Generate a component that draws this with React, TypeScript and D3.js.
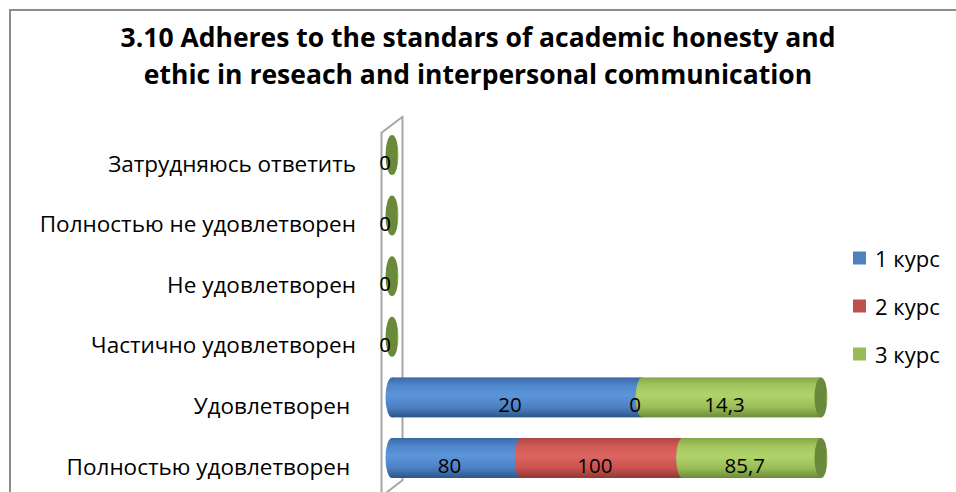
import * as d3 from "d3";

const categories = [
  "Затрудняюсь ответить",
  "Полностью не удовлетворен",
  "Не удовлетворен",
  "Частично удовлетворен",
  "Удовлетворен ",
  "Полностью удовлетворен ",
];
const seriesNames = ["1 курс", "2 курс", "3 курс"];
const course1 = [0, 0, 0, 0, 20, 80];
const course2 = [0, 0, 0, 0, 0, 100];
const course3 = [0, 0, 0, 0, 14.3, 85.7];

const TITLE = [
  "3.10 Adheres to the standars of academic honesty and",
  "ethic in reseach and interpersonal communication",
];

const FONT = "'Open Sans', 'Noto Sans', sans-serif";
const W = 956;
const H = 492;

// legend swatch + cylinder shading per series
const SWATCH = ["#4f81bd", "#c0504d", "#9bbb59"];
const SHADE = [
  ["#3a68a6", "#4f86cc", "#5c95da", "#4c80c2", "#2c5589"],
  ["#b04643", "#cf5955", "#dc6561", "#c9524e", "#923835"],
  ["#84a648", "#a2c55e", "#b0d36b", "#9abd56", "#6d8b38"],
];
const CAP = ["#3f6599", "#9e403d", "#6a8a3b"];

const rows = categories.map((c, i) => ({
  cat: c,
  [seriesNames[0]]: course1[i],
  [seriesNames[1]]: course2[i],
  [seriesNames[2]]: course3[i],
}));

const stacked = d3.stack().keys(seriesNames).offset(d3.stackOffsetExpand)(rows as any);

const x = d3.scaleLinear().domain([0, 1]).range([392, 821]);
const y = d3.scaleBand().domain(categories).range([124.7, 488.3]).padding(0);

const BAR_H = 40;
const RX = 6.5;
// depth of the 3d box: front and back plane relative to bar centre
const FRONT = { dx: -10.5, dy: 8 };
const BACK = { dx: 10.5, dy: -8 };
const LABEL = { dx: -7, dy: 7 };

const fmt = d3.formatLocale({ decimal: ",", thousands: " ", grouping: [3], currency: ["", ""] }).format("~f");

export default function App() {
  const x0 = x(0);
  const yTop = y.range()[0];
  const yBot = y.range()[1];

  const labels: { key: string; x: number; y: number; text: string }[] = [];
  const seen = new Set<string>();
  stacked.forEach((s: any) => {
    s.forEach((d: any, i: number) => {
      const raw = d.data[s.key] as number;
      const cx = raw === 0 ? x(d[0]) : (x(d[0]) + x(d[1])) / 2;
      const cy = (y(categories[i]) as number) + y.bandwidth() / 2;
      const text = fmt(raw);
      const k = `${Math.round(cx)}-${text}-${i}`;
      if (seen.has(k)) return;
      seen.add(k);
      labels.push({ key: `${s.key}-${i}`, x: cx + LABEL.dx, y: cy + LABEL.dy, text });
    });
  });

  return (
    <svg width={W} height={H} style={{ position: "absolute", left: 0, top: 0, fontFamily: FONT }}>
      <defs>
        {SHADE.map((stops, si) => (
          <linearGradient key={si} id={`body${si}`} x1="0" y1="0" x2="0" y2="1">
            {stops.map((c, k) => (
              <stop key={k} offset={[0, 0.2, 0.45, 0.75, 1][k]} stopColor={c} />
            ))}
          </linearGradient>
        ))}
        {CAP.map((c, si) => (
          <linearGradient key={si} id={`cap${si}`} x1="0" y1="0" x2="1" y2="0">
            <stop offset={0} stopColor={c} />
            <stop offset={0.85} stopColor={c} />
            <stop offset={1} stopColor={SHADE[si][1]} />
          </linearGradient>
        ))}
      </defs>

      <rect x={10} y={10} width={W + 10} height={H + 10} fill="#fff" stroke="#8c8c8c" strokeWidth={2} />

      {TITLE.map((t, i) => (
        <text key={i} x={478} y={47 + i * 37} textAnchor="middle" fontSize={26.5} fontWeight={700} fill="#000">
          {t}
        </text>
      ))}

      {/* left wall */}
      <path
        d={`M${x0 + FRONT.dx},${yBot + FRONT.dy} L${x0 + FRONT.dx},${yTop + FRONT.dy} L${x0 + BACK.dx},${yTop + BACK.dy} L${x0 + BACK.dx},${yBot + BACK.dy} Z`}
        fill="#fff"
        stroke="#a6a6a6"
        strokeWidth={2}
        strokeLinejoin="round"
      />

      {/* cylinders */}
      {categories.map((c, i) => {
        const cy = (y(c) as number) + y.bandwidth() / 2;
        const top = cy - BAR_H / 2;
        const last = stacked.length - 1;
        return (
          <g key={c}>
            {stacked.map((s: any, si: number) => {
              const d = s[i];
              const a = x(d[0]);
              const b = x(d[1]);
              if (b - a <= 0) return null;
              return (
                <g key={s.key}>
                  <rect x={a} y={top} width={b - a} height={BAR_H} fill={`url(#body${si})`} />
                  <ellipse cx={a} cy={cy} rx={RX} ry={BAR_H / 2} fill={`url(#body${si})`} />
                </g>
              );
            })}
            <ellipse
              cx={x(stacked[last][i][1])}
              cy={cy}
              rx={RX}
              ry={BAR_H / 2}
              fill={`url(#cap${last})`}
            />
          </g>
        );
      })}

      {/* data labels */}
      {labels.map((l) => (
        <text key={l.key} x={l.x} y={l.y} textAnchor="middle" dominantBaseline="central" fontSize={20.5} fill="#000">
          {l.text}
        </text>
      ))}

      {/* category labels */}
      {categories.map((c) => (
        <text
          key={c}
          x={356}
          y={(y(c) as number) + y.bandwidth() / 2 + FRONT.dy}
          textAnchor="end"
          dominantBaseline="central"
          fontSize={22.5}
          fill="#000"
          style={{ whiteSpace: "pre" }}
        >
          {c}
        </text>
      ))}

      {/* legend */}
      {seriesNames.map((n, i) => (
        <g key={n} transform={`translate(853, ${258 + i * 48})`}>
          <rect x={0} y={-6.5} width={13} height={13} fill={SWATCH[i]} />
          <text x={22} y={0} dominantBaseline="central" fontSize={22} fill="#000">
            {n}
          </text>
        </g>
      ))}
    </svg>
  );
}
